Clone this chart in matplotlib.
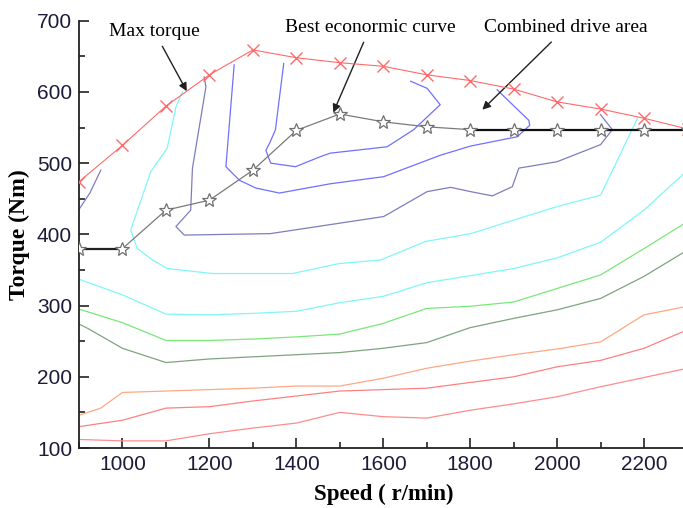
import matplotlib
matplotlib.use("Agg")
import matplotlib.pyplot as plt
from matplotlib.ticker import MultipleLocator

# Max torque curve
speed = [900, 1000, 1100, 1200, 1300, 1400, 1500, 1600, 1700, 1800, 1900, 2000, 2100, 2200, 2300]
max_torque = [474, 525, 580, 624, 659, 648, 641, 636, 624, 616, 604, 586, 576, 563, 548]

# Best economic curve
econ_torque = [380, 380, 434, 448, 490, 546, 569, 558, 551, 547, 547, 547, 547, 547, 547]

# Efficiency contours (open lines)
red1_x = speed
red1_y = [112, 110, 110, 120, 128, 135, 150, 144, 142, 153, 162, 172, 186, 199, 212]
red2_x = speed
red2_y = [130, 139, 156, 158, 166, 173, 180, 182, 184, 192, 200, 214, 223, 240, 266]
orange_x = [900, 950, 1000, 1100, 1200, 1300, 1400, 1500, 1600, 1700, 1800, 1900, 2000, 2100, 2200, 2300]
orange_y = [146, 156, 178, 180, 182, 184, 187, 187, 198, 212, 222, 231, 239, 249, 287, 299]
dkgreen_x = [900, 920, 1000, 1100, 1200, 1300, 1400, 1500, 1600, 1700, 1800, 1900, 2000, 2100, 2200, 2300]
dkgreen_y = [274, 268, 240, 220, 225, 228, 231, 234, 240, 248, 269, 282, 294, 310, 341, 378]
green_x = speed
green_y = [295, 276, 251, 251, 253, 256, 260, 275, 296, 299, 305, 324, 343, 380, 418]
cyan2_x = speed
cyan2_y = [337, 315, 288, 287, 289, 292, 304, 313, 332, 342, 352, 367, 389, 434, 490]
cyan1_x = [1138, 1123, 1103, 1065, 1019, 1027, 1034, 1069, 1103, 1207, 1391, 1499, 1594, 1697, 1801, 1900, 2000, 2100, 2185]
cyan1_y = [600, 579, 521, 488, 406, 392, 380, 364, 352, 345, 345, 359, 364, 390, 401, 420, 439, 455, 563]
slate0_x = [900, 925, 950]
slate0_y = [435, 458, 490]
slate_x = [1188, 1192, 1161, 1157, 1123, 1142, 1340, 1601, 1701, 1755, 1801, 1851, 1897, 1912, 2000, 2100, 2127, 2100]
slate_y = [621, 607, 493, 434, 411, 399, 401, 425, 460, 466, 460, 454, 467, 493, 502, 526, 547, 568]
blue2_x = [1257, 1238, 1269, 1307, 1361, 1478, 1601, 1731, 1801, 1908, 1937, 1935, 1862]
blue2_y = [638, 495, 476, 465, 458, 471, 481, 511, 524, 537, 553, 560, 603]
blue3_x = [1371, 1352, 1340, 1330, 1341, 1398, 1455, 1478, 1609, 1670, 1731, 1701, 1663]
blue3_y = [640, 547, 530, 518, 500, 495, 509, 514, 523, 547, 582, 605, 615]

fig = plt.figure(figsize=(6.83, 5.08), dpi=100)
ax = fig.add_axes([79 / 683, 60 / 508, (687.5 - 79) / 683, (448 - 20.7) / 508])

lw = 0.9
ax.plot(red1_x, red1_y, color="#ff8c8c", lw=lw)
ax.plot(red2_x, red2_y, color="#ff8080", lw=lw)
ax.plot(orange_x, orange_y, color="#ffa784", lw=lw)
ax.plot(dkgreen_x, dkgreen_y, color="#7ea47e", lw=lw)
ax.plot(green_x, green_y, color="#78e878", lw=lw)
ax.plot(cyan2_x, cyan2_y, color="#80f6f6", lw=lw)
ax.plot(cyan1_x, cyan1_y, color="#80f6f6", lw=lw)
ax.plot(slate0_x, slate0_y, color="#7d7dc0", lw=lw)
ax.plot(slate_x, slate_y, color="#7d7dc0", lw=lw)
ax.plot(blue2_x, blue2_y, color="#7070ff", lw=lw)
ax.plot(blue3_x, blue3_y, color="#7070ff", lw=lw)

# max torque
ax.plot(speed, max_torque, color="#ff6a6a", lw=0.8, marker="x", ms=9, mew=1.0, zorder=4)

# best economic curve: black where it runs along a boundary, grey elsewhere
ax.plot(speed[:2], econ_torque[:2], color="#202020", lw=1.6, zorder=4)
ax.plot(speed[1:10], econ_torque[1:10], color="#7a7a7a", lw=0.9, zorder=4)
ax.plot(speed[9:], econ_torque[9:], color="#101010", lw=1.6, zorder=4)
ax.plot(speed, econ_torque, ls="none", marker="*", ms=10, mfc="white", mec="#707070", mew=0.9, zorder=5)

serif = "Liberation Serif"
arrow = dict(arrowstyle="-|>", color="#202020", lw=1.0, mutation_scale=12, shrinkA=3, shrinkB=0)
ax.annotate("Max torque", xy=(1148, 601), xytext=(1073, 685), ha="center", va="center",
            fontsize=14, family=serif, arrowprops=arrow)
ax.annotate("Best econormic curve", xy=(1485, 571), xytext=(1570, 691), ha="center", va="center",
            fontsize=14, family=serif, arrowprops=arrow)
ax.annotate("Combined drive area", xy=(1828, 575), xytext=(2020, 690), ha="center", va="center",
            fontsize=14, family=serif, arrowprops=arrow)

ax.set_xlim(900, 2300)
ax.set_ylim(100, 700)
ax.xaxis.set_major_locator(MultipleLocator(200))
ax.xaxis.set_minor_locator(MultipleLocator(100))
ax.yaxis.set_major_locator(MultipleLocator(100))
ax.yaxis.set_minor_locator(MultipleLocator(50))
ax.set_xticks([1000, 1200, 1400, 1600, 1800, 2000, 2200])
ax.set_yticks([100, 200, 300, 400, 500, 600, 700])
ax.tick_params(which="both", direction="in", width=1.2, colors="#222222", labelcolor="#1c1c3a",
               top=False, right=False)
ax.tick_params(which="major", length=7, labelsize=15, pad=5)
ax.tick_params(which="minor", length=4)
for lab in ax.get_xticklabels() + ax.get_yticklabels():
    lab.set_family("Liberation Sans")
for s in ["top", "right"]:
    ax.spines[s].set_visible(False)
for s in ["left", "bottom"]:
    ax.spines[s].set_linewidth(1.3)
    ax.spines[s].set_color("#222222")

ax.set_xlabel("Speed ( r/min)", family=serif, fontweight="bold", fontsize=16.5, labelpad=7)
ax.set_ylabel("Torque (Nm)", family=serif, fontweight="bold", fontsize=17, labelpad=5)

fig.savefig("out.png", dpi=100)
